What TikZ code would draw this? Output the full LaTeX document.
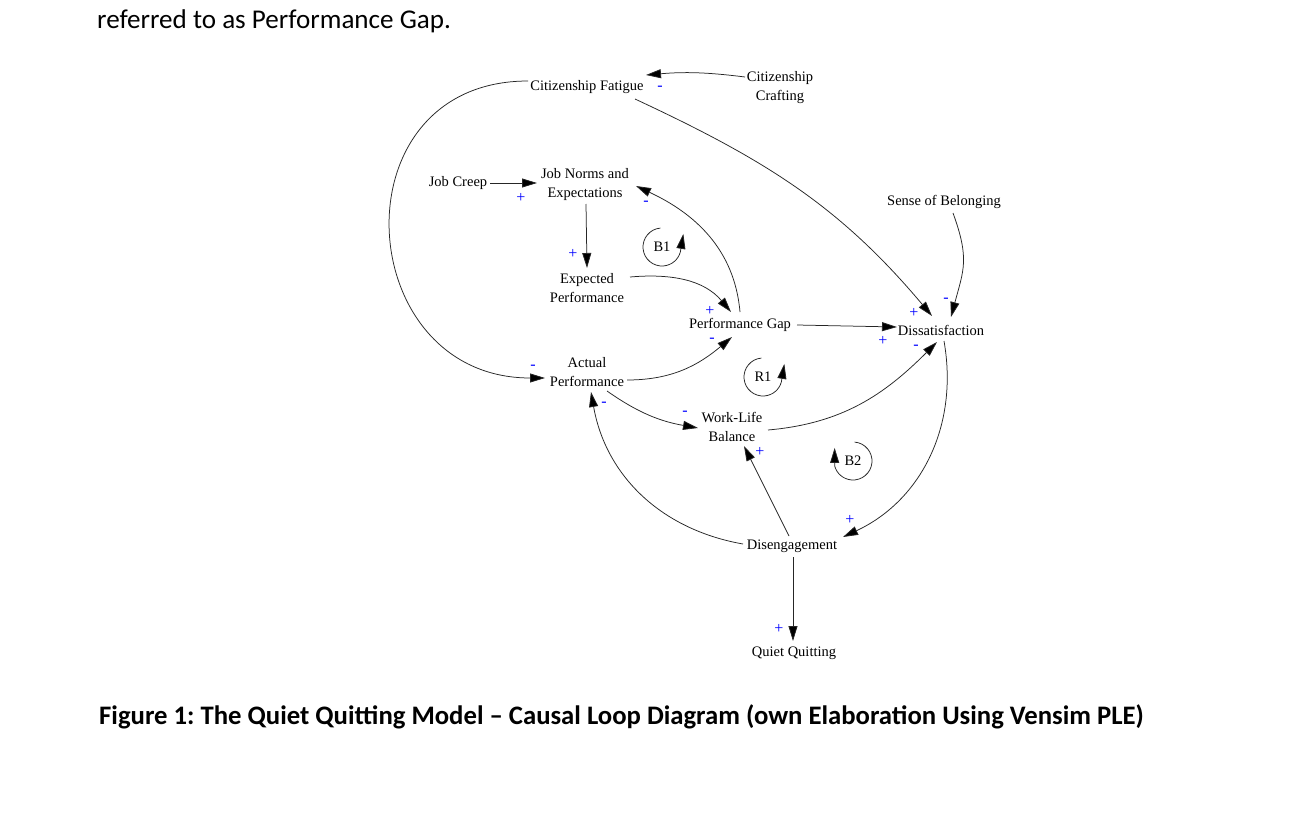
\documentclass[tikz,border=0pt]{standalone}
\usepackage{fontspec}
\setmainfont{Liberation Serif}
\newfontfamily\calfont[Ligatures=TeX]{Carlito}
\usetikzlibrary{arrows.meta}
\begin{document}
\frenchspacing
\begin{tikzpicture}[x=1bp,y=1bp,
  var/.style={inner sep=0pt, align=center, font=\fontsize{14.5bp}{19bp}\selectfont},
  pol/.style={inner sep=0pt, text=blue, font=\fontsize{16bp}{16bp}\selectfont},
  link/.style={line width=0.75bp, draw=black!85, -{Triangle[length=15bp,width=9bp,fill=black]}},
]
\fill[white] (0,0) rectangle (1292,-818);
\useasboundingbox (0,0) rectangle (1292,-818);

% header and caption
\node[anchor=base west, inner sep=0pt, font=\calfont\fontsize{27.1bp}{30bp}\selectfont] (hdr) at (97,-29) {referred to as Performance Gap.};
\node[anchor=base west, inner sep=0pt, font=\calfont\bfseries\fontsize{26.7bp}{30bp}\selectfont] (cap) at (99,-724) {Figure 1: The Quiet Quitting Model – Causal Loop Diagram (own Elaboration Using Vensim PLE)};

% variables
\node[var] (cf) at (587,-87) {Citizenship Fatigue};
\node[var] (cc) at (780,-88) {Citizenship\\Crafting};
\node[var] (jc) at (458,-183) {Job Creep};
\node[var] (jn) at (585,-185) {Job Norms and\\Expectations};
\node[var] (ep) at (587,-288) {Expected\\Performance};
\node[var] (pg) at (740,-325) {Performance Gap};
\node[var] (ap) at (587,-372) {Actual\\Performance};
\node[var] (d) at (941,-330) {Dissatisfaction};
\node[var] (sb) at (944,-202) {Sense of Belonging};
\node[var] (wlb) at (732,-427) {Work-Life\\Balance};
\node[var] (dg) at (792,-546) {Disengagement};
\node[var] (qq) at (794,-653) {Quiet Quitting};

% links
\draw[link] ([shift={(-35,11)}]cc.center) to[bend right=6] ([shift={(59,12)}]cf.center);
\draw[link] ([shift={(32,0)}]jc.center) -- ([shift={(-48,2)}]jn.center);
\draw[link] ([shift={(1,-19)}]jn.center) -- ([shift={(0,20)}]ep.center);
\draw[link] ([shift={(43,11)}]ep.center) to[out=5,in=130] ([shift={(-9,13)}]pg.center);
\draw[link] ([shift={(0,13)}]pg.center) to[out=95,in=-25] ([shift={(51,-1)}]jn.center);
\draw[link] ([shift={(40,-8)}]ap.center) to[out=0,in=220] ([shift={(-8,-12)}]pg.center);
\draw[link] ([shift={(57,0)}]pg.center) -- ([shift={(-44,3)}]d.center);
\draw[link] ([shift={(48,-12)}]cf.center) to[out=-25,in=130] ([shift={(-9,14)}]d.center);
\draw[link] ([shift={(9,-11)}]sb.center) to[out=-70,in=75,looseness=1.2] ([shift={(10,13)}]d.center);
\draw[link] ([shift={(-59,6)}]cf.center) .. controls +(-194,0) and +(-194,0) .. ([shift={(-42,-6)}]ap.center);
\draw[link] ([shift={(20,-19)}]ap.center) to[out=-35,in=170] ([shift={(-34,-1)}]wlb.center);
\draw[link] ([shift={(36,-3)}]wlb.center) to[out=5,in=-135] ([shift={(-4,-12)}]d.center);
\draw[link] ([shift={(3,-11)}]d.center) to[out=-80,in=25] ([shift={(51,9)}]dg.center);
\draw[link] ([shift={(-3,10)}]dg.center) -- ([shift={(12,-19)}]wlb.center);
\draw[link] ([shift={(-49,2)}]dg.center) to[out=170,in=-80] ([shift={(4,-20)}]ap.center);
\draw[link] ([shift={(1,-11)}]dg.center) -- ([shift={(-1,12)}]qq.center);

% polarities
\node[pol] (p1) at (660,-88) {-};
\node[pol] (p2) at (521,-198) {+};
\node[pol] (p3) at (573,-254) {+};
\node[pol] (p4) at (646,-203) {-};
\node[pol] (p5) at (710,-311) {+};
\node[pol] (p6) at (712,-340) {-};
\node[pol] (p7) at (883,-341) {+};
\node[pol] (p8) at (914,-313) {+};
\node[pol] (p9) at (946,-300) {-};
\node[pol] (p10) at (533,-367) {-};
\node[pol] (p11) at (685,-413) {-};
\node[pol] (p12) at (604,-404) {-};
\node[pol] (p13) at (916,-347) {-};
\node[pol] (p14) at (760,-452) {+};
\node[pol] (p15) at (850,-520) {+};
\node[pol] (p16) at (779,-629) {+};

% loop symbols
\node[var] (b1) at (662,-247) {B1};
\draw[link] ([shift={(95:19)}]b1.center) arc[start angle=95,end angle=345,radius=19] -- ++(3,18);
\node[var] (r1) at (763,-377) {R1};
\draw[link] ([shift={(95:19)}]r1.center) arc[start angle=95,end angle=345,radius=19] -- ++(3,18);
\node[var] (b2) at (853,-461) {B2};
\draw[link] ([shift={(85:19)}]b2.center) arc[start angle=85,end angle=-165,radius=19] -- ++(0,18);
\end{tikzpicture}
\end{document}
